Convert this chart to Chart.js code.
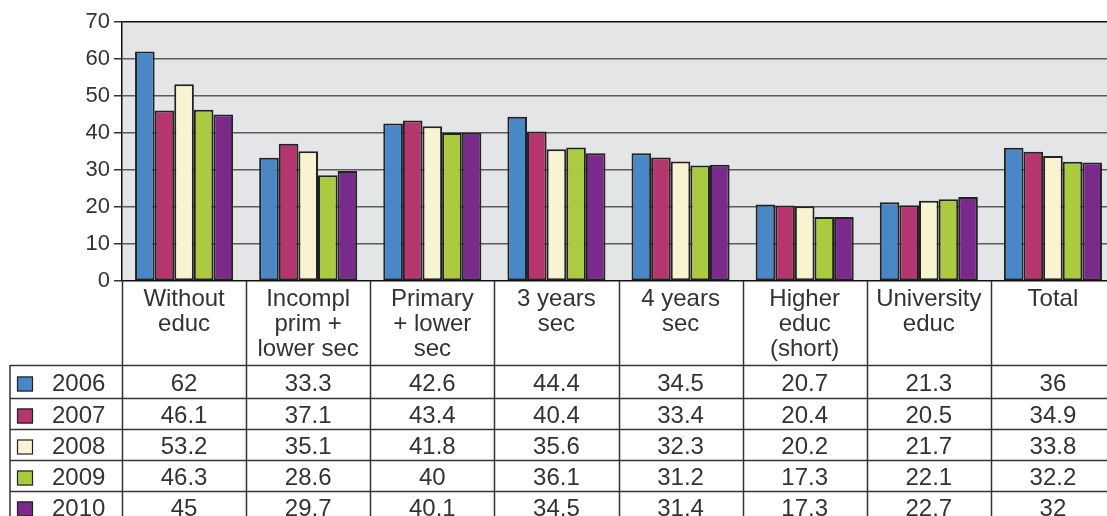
<!DOCTYPE html>
<html>
<head>
<meta charset="utf-8">
<script src="https://cdn.jsdelivr.net/npm/chart.js@4/dist/chart.umd.min.js"></script>
<style>
  html, body { margin: 0; padding: 0; background: #fff; overflow: hidden; }
  #wrap { position: relative; width: 1116px; height: 516px; }
</style>
</head>
<body>
<div id="wrap"><canvas id="c"></canvas></div>
<script>
// Education levels (multi-line header labels)
const categories = [
  ['Without', 'educ'],
  ['Incompl', 'prim +', 'lower sec'],
  ['Primary', '+ lower', 'sec'],
  ['3 years', 'sec'],
  ['4 years', 'sec'],
  ['Higher', 'educ', '(short)'],
  ['University', 'educ'],
  ['Total']
];
const years = ['2006', '2007', '2008', '2009', '2010'];
const values2006 = [62, 33.3, 42.6, 44.4, 34.5, 20.7, 21.3, 36];
const values2007 = [46.1, 37.1, 43.4, 40.4, 33.4, 20.4, 20.5, 34.9];
const values2008 = [53.2, 35.1, 41.8, 35.6, 32.3, 20.2, 21.7, 33.8];
const values2009 = [46.3, 28.6, 40, 36.1, 31.2, 17.3, 22.1, 32.2];
const values2010 = [45, 29.7, 40.1, 34.5, 31.4, 17.3, 22.7, 32];
const yTicks = [0, 10, 20, 30, 40, 50, 60, 70];

const seriesValues = [values2006, values2007, values2008, values2009, values2010];
const seriesColors = ['#4a87c6', '#b5366f', '#f8f4d1', '#aacb3f', '#7a2a8b'];

const FONT = '"Liberation Sans", Arial, sans-serif';
const TEXT = '#333';
const LINE = '#333';

// Plot background fill
const plotBg = {
  id: 'plotBg',
  beforeDraw(chart) {
    const { ctx, chartArea: a } = chart;
    ctx.save();
    ctx.fillStyle = '#e4e5e7';
    ctx.fillRect(a.left, a.top, a.right - a.left, a.bottom - a.top);
    ctx.restore();
  }
};

// Data table under the plot: header row with category names, one row per year
const dataTable = {
  id: 'dataTable',
  afterDraw(chart) {
    const { ctx, chartArea: a } = chart;
    const n = categories.length;
    const colW = (a.right - a.left) / n;
    const headerBottom = 365;
    const firstRowH = 33;
    const rowH = 31;
    const legendLeft = 10;
    const rowTop = r => r === 0 ? headerBottom : headerBottom + firstRowH + (r - 1) * rowH;
    const tableBottom = rowTop(years.length);

    ctx.save();
    ctx.strokeStyle = LINE;
    ctx.lineWidth = 1.5;

    // vertical column lines
    for (let i = 0; i <= n; i++) {
      const x = Math.round(a.left + i * colW) + 0.5;
      ctx.beginPath();
      ctx.moveTo(x, a.bottom);
      ctx.lineTo(x, tableBottom);
      ctx.stroke();
    }
    // legend column left border
    ctx.beginPath();
    ctx.moveTo(legendLeft, headerBottom);
    ctx.lineTo(legendLeft, tableBottom);
    ctx.stroke();
    // horizontal row lines
    for (let r = 0; r <= years.length; r++) {
      const y = Math.round(rowTop(r)) + 0.5;
      ctx.beginPath();
      ctx.moveTo(legendLeft, y);
      ctx.lineTo(a.right, y);
      ctx.stroke();
    }

    ctx.fillStyle = TEXT;
    ctx.textAlign = 'center';
    ctx.textBaseline = 'middle';
    ctx.font = '24px ' + FONT;

    // header labels
    categories.forEach((lines, i) => {
      const cx = a.left + (i + 0.5) * colW;
      lines.forEach((t, j) => ctx.fillText(t, cx, 299 + j * 25));
    });

    // value cells
    seriesValues.forEach((vals, r) => {
      const top = rowTop(r);
      const h = rowTop(r + 1) - top;
      const cy = top + h / 2 + 3;
      vals.forEach((v, i) => {
        const cx = a.left + (i + 0.5) * colW;
        ctx.fillText(String(v), cx, cy);
      });
      // legend swatch + year
      const sy = cy - 8;
      ctx.fillStyle = seriesColors[r];
      ctx.fillRect(17, sy, 16, 15);
      ctx.strokeStyle = '#222';
      ctx.lineWidth = 1.2;
      ctx.strokeRect(17.5, sy + 0.5, 15, 14);
      ctx.fillStyle = TEXT;
      ctx.textAlign = 'left';
      ctx.fillText(years[r], 52, cy);
      ctx.textAlign = 'center';
    });
    ctx.restore();
  }
};

new Chart(document.getElementById('c'), {
  type: 'bar',
  data: {
    labels: categories.map(l => l.join(' ')),
    datasets: years.map((y, k) => ({
      label: y,
      data: seriesValues[k],
      backgroundColor: seriesColors[k],
      borderColor: '#222',
      borderWidth: 2,
      borderSkipped: false,
      categoryPercentage: 0.79,
      barPercentage: 1.0
    }))
  },
  options: {
    responsive: true,
    maintainAspectRatio: false,
    animation: false,
    layout: { padding: { top: 22, bottom: 235, left: 0, right: 1 } },
    plugins: { legend: { display: false }, tooltip: { enabled: false } },
    scales: {
      x: { display: false },
      y: {
        min: 0,
        max: 70,
        afterBuildTicks(scale) { scale.ticks = yTicks.map(v => ({ value: v })); },
        afterFit(scale) { scale.width = 122; },
        ticks: { color: TEXT, font: { family: FONT, size: 22 }, padding: 4 },
        grid: {
          color: ctx => (ctx.tick && (ctx.tick.value === 0 || ctx.tick.value === 70)) ? '#111' : '#5c5c5c',
          lineWidth: 1.5,
          tickLength: 8,
          tickColor: '#333',
          drawTicks: true
        },
        border: { color: '#111', width: 1.5 }
      }
    }
  },
  plugins: [plotBg, dataTable]
});
</script>
</body>
</html>
